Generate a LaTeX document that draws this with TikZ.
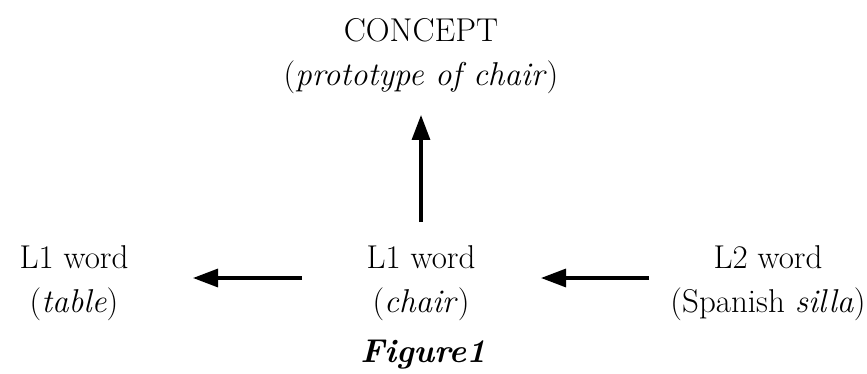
\documentclass[tikz,border=0pt]{standalone}
\usepackage{fontspec}
\usetikzlibrary{arrows.meta}
\begin{document}
\begin{tikzpicture}[x=1pt,y=1pt,
  lbl/.style={align=center,inner sep=0pt,anchor=base,font=\fontsize{33}{44}\selectfont},
  arr/.style={line width=3.2pt,-{Triangle[length=25pt,width=18pt]}}]
\useasboundingbox (0,0) rectangle (867,-374);
% concept and the three words
\node[lbl] (concept) at (421,-86) {CONCEPT\\(\textit{prototype of chair})};
\node[lbl] (lft) at (74,-312) {L1 word\\(\textit{table})};
\node[lbl] (mid) at (421,-312) {L1 word\\(\textit{chair})};
\node[lbl] (rgt) at (768,-312) {L2 word\\(Spanish \textit{silla})};
\node[lbl,font=\fontsize{33}{44}\selectfont\bfseries\itshape] (cap) at (423,-362) {Figure1};
% links
\draw[arr] ([yshift=90pt]mid.base) -- ([yshift=-29pt]concept.base);
\draw[arr] ([xshift=-119pt,yshift=34pt]mid.base) -- ([xshift=119pt,yshift=34pt]lft.base);
\draw[arr] ([xshift=-119pt,yshift=34pt]rgt.base) -- ([xshift=120pt,yshift=34pt]mid.base);
\end{tikzpicture}
\end{document}
